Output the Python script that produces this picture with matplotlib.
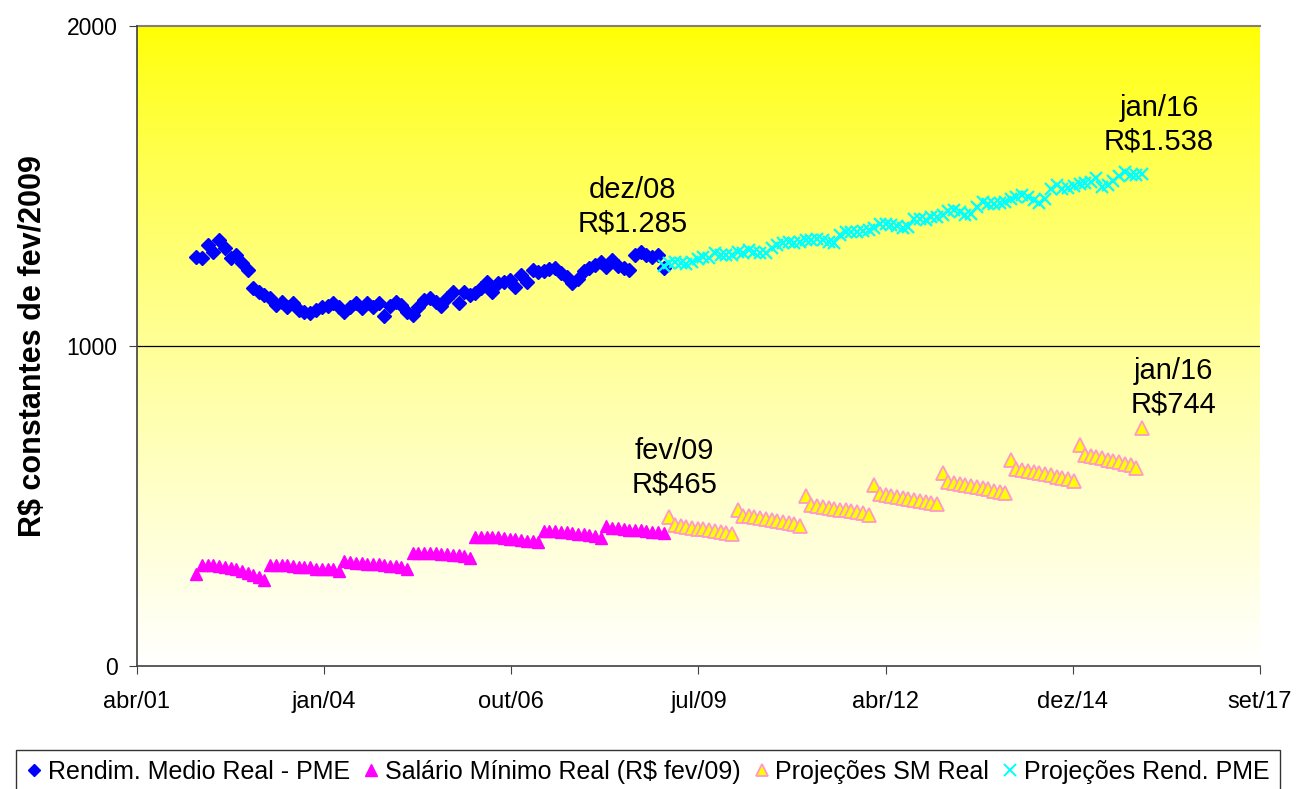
import numpy as np
import pandas as pd
import matplotlib
matplotlib.use("Agg")
import matplotlib.pyplot as plt
import matplotlib.dates as mdates
from matplotlib.lines import Line2D

plt.rcParams['font.family'] = ['Liberation Sans', 'DejaVu Sans']

# Rendimento medio real - PME, mensal mar/02 .. jan/09
pme_dates = pd.date_range('2002-03-01', '2009-01-01', freq='MS')
pme_vals = [1278, 1275, 1316, 1294, 1331, 1306, 1275, 1284, 1259, 1237,
            1181, 1170, 1160, 1150, 1128, 1138, 1122, 1134, 1112, 1106, 1103, 1112,
            1122, 1125, 1134, 1122, 1106, 1122, 1134, 1119, 1134, 1122, 1134, 1094,
            1125, 1138, 1128, 1106, 1097, 1122, 1144, 1150, 1138, 1125, 1150, 1169,
            1134, 1169, 1159, 1165, 1180, 1200, 1169, 1197, 1200, 1206, 1184, 1222,
            1200, 1237, 1230, 1235, 1240, 1244, 1228, 1216, 1197, 1210, 1235, 1244,
            1253, 1262, 1247, 1269, 1250, 1244, 1237, 1284, 1294, 1285, 1278, 1285,
            1245]

# Salario minimo real (R$ fev/09), mar/02 .. jan/09
sm_dates = pd.date_range('2002-03-01', '2009-01-01', freq='MS')
sm_vals = [286,
           316, 316, 316, 311, 308, 306, 304, 298, 290, 283, 277, 268,
           316, 316, 316, 316, 313, 310, 310, 310, 304, 304, 304, 304, 298,
           327, 324, 322, 322, 320, 320, 318, 316, 314, 312, 308, 302,
           354, 354, 354, 353, 352, 350, 349, 347, 346, 343, 338,
           404, 404, 404, 403, 402, 400, 398, 396, 394, 392, 390, 386,
           421, 421, 421, 420, 418, 417, 414, 412, 409, 406, 401,
           439, 432, 430, 428, 426, 425, 424, 422, 420, 418, 416]

# Projecoes SM real, fev/09 .. jan/16
psm_dates = pd.date_range('2009-02-01', '2016-01-01', freq='MS')
psm_vals = [465, 440, 437, 434, 432, 429, 427, 424, 421, 418, 415, 412,
            489, 470, 468, 465, 462, 459, 456, 453, 450, 447, 443, 438,
            531, 503, 500, 498, 495, 492, 489, 486, 483, 480, 477, 473,
            567, 538, 535, 532, 529, 526, 523, 520, 517, 513, 509, 505,
            604, 574, 571, 568, 565, 562, 559, 556, 552, 548, 545, 541,
            645, 615, 612, 609, 606, 603, 600, 596, 592, 588, 584, 578,
            692, 658, 655, 652, 649, 645, 641, 637, 632, 627, 620,
            744]

# Projecoes rendimento PME, jan/09 .. jan/16
prend_dates = pd.date_range('2009-01-01', '2016-01-01', freq='MS')
prend_vals = [1250, 1260, 1262, 1259, 1255, 1262, 1272, 1278, 1275, 1291, 1286, 1284,
              1286, 1294, 1291, 1300, 1294, 1291, 1292, 1306, 1316, 1322, 1325, 1322,
              1325, 1331, 1331, 1335, 1330, 1324, 1322, 1348, 1356, 1356, 1356, 1358,
              1362, 1369, 1380, 1380, 1378, 1375, 1369, 1372, 1398, 1396, 1394, 1403,
              1403, 1409, 1422, 1425, 1418, 1409, 1412, 1434, 1450, 1443, 1445, 1447,
              1450, 1458, 1466, 1472, 1465, 1455, 1448, 1460, 1490, 1503, 1490, 1494,
              1500, 1505, 1510, 1512, 1524, 1498, 1502, 1515, 1530, 1544, 1534, 1534,
              1538]

tick_labels = ['abr/01', 'jan/04', 'out/06', 'jul/09', 'abr/12', 'dez/14', 'set/17']

notes = [('dez/08\nR$1.285', '2008-07-20', 1435),
         ('jan/16\nR$1.538', '2016-04-01', 1690),
         ('fev/09\nR$465', '2009-03-01', 620),
         ('jan/16\nR$744', '2016-06-15', 870)]

fig = plt.figure(figsize=(12.96, 7.89), dpi=100)
ax = fig.add_axes([0.1057, 0.1559, 0.8665, 0.8111])

x0 = mdates.date2num(pd.Timestamp('2001-04-19'))
xmax = x0 + 6000
ax.set_xlim(x0, xmax)

# fundo em degrade amarelo (topo) -> branco (base)
t = np.linspace(0, 1, 256) ** 0.75
grad = np.ones((256, 1, 3))
grad[:, 0, 2] = t
ax.imshow(grad, extent=[x0, xmax, 0, 2000], aspect='auto', zorder=0, origin='upper')
ax.set_ylim(0, 2000)

ax.axhline(1000, color='black', lw=0.9, zorder=1)
ax.axhline(2000, color='#808080', lw=1.5, zorder=1, clip_on=False)

ax.plot(mdates.date2num(pme_dates), pme_vals, ls='none', marker='D', ms=7,
        color='#0000FF', mec='#0000FF', zorder=3)
ax.plot(mdates.date2num(sm_dates), sm_vals, ls='none', marker='^', ms=9,
        color='#FF00FF', mec='#FF00FF', zorder=3)
ax.plot(mdates.date2num(psm_dates), psm_vals, ls='none', marker='^', ms=10,
        mfc='#FFFF00', mec='#FF99CC', mew=1.3, zorder=3)
ax.plot(mdates.date2num(prend_dates), prend_vals, ls='none', marker='x', ms=9,
        color='#00FFFF', mew=1.6, zorder=4)

for txt, d, y in notes:
    ax.text(mdates.date2num(pd.Timestamp(d)), y, txt, ha='center', va='center',
            fontsize=21, linespacing=1.25, zorder=5)

ax.set_xticks([x0 + 1000 * i for i in range(len(tick_labels))])
ax.set_xticklabels(tick_labels)
ax.set_yticks([0, 1000, 2000])
ax.tick_params(axis='both', direction='out', length=6, color='#404040')
ax.tick_params(axis='x', labelsize=17, pad=12)
ax.tick_params(axis='y', labelsize=16.5, pad=8)

for s in ['top', 'right']:
    ax.spines[s].set_visible(False)
for s in ['left', 'bottom']:
    ax.spines[s].set_color('#404040')
    ax.spines[s].set_linewidth(1.2)

ax.set_ylabel('R$ constantes de fev/2009', fontsize=22, fontweight='bold', labelpad=13)

handles = [Line2D([], [], ls='none', marker='D', ms=6, color='#0000FF'),
           Line2D([], [], ls='none', marker='^', ms=9, color='#FF00FF'),
           Line2D([], [], ls='none', marker='^', ms=9, mfc='#FFFF00', mec='#FF99CC', mew=1.3),
           Line2D([], [], ls='none', marker='x', ms=8, color='#00FFFF', mew=1.4)]
labels = ['Rendim. Medio Real - PME', 'Salário Mínimo Real (R$ fev/09)',
          'Projeções SM Real', 'Projeções Rend. PME']
leg = fig.legend(handles, labels, loc='lower center', bbox_to_anchor=(0.5, -0.006),
                 ncol=4, fontsize=18, frameon=True, fancybox=False, handlelength=0.6,
                 handletextpad=0.25, columnspacing=0.55, borderpad=0.4, borderaxespad=0)
leg.get_frame().set_edgecolor('black')
leg.get_frame().set_linewidth(1.0)

fig.savefig('out.png', dpi=100)
